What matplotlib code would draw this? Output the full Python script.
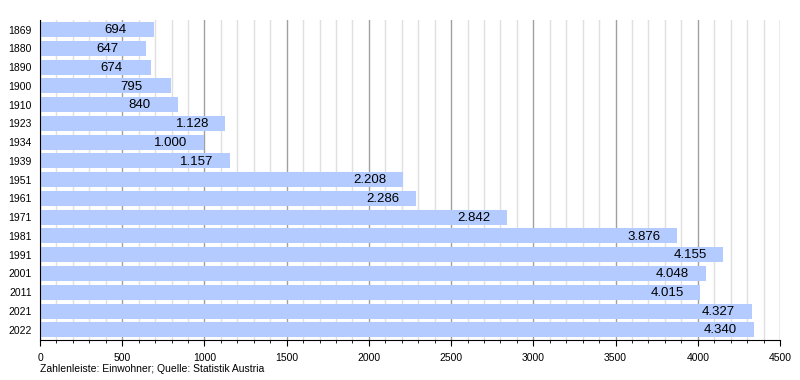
import matplotlib.pyplot as plt
from matplotlib.ticker import MultipleLocator

plt.rcParams['font.family'] = ['Liberation Sans', 'DejaVu Sans']

# population by census year
years = ['1869', '1880', '1890', '1900', '1910', '1923', '1934', '1939', '1951',
         '1961', '1971', '1981', '1991', '2001', '2011', '2021', '2022']
population = [694, 647, 674, 795, 840, 1128, 1000, 1157, 2208,
              2286, 2842, 3876, 4155, 4048, 4015, 4327, 4340]
labels = ['694', '647', '674', '795', '840', '1.128', '1.000', '1.157', '2.208',
          '2.286', '2.842', '3.876', '4.155', '4.048', '4.015', '4.327', '4.340']

fig = plt.figure(figsize=(8, 3.8), dpi=100)
ax = fig.add_axes([0.05, 0.105, 0.925, 0.842])

pos = list(range(len(years)))
ax.barh(pos, population, height=0.8, color='#b3cbff', zorder=2)

for p, v, t in zip(pos, population, labels):
    ax.annotate(t, (v, p), xytext=(-36, -0.5), textcoords='offset points',
                ha='left', va='center', fontsize=9.5, zorder=3)

ax.set_xlim(0, 4500)
ax.set_ylim(16.55, -0.5)
ax.set_yticks(pos)
ax.set_yticklabels(years, fontsize=7.5)
ax.tick_params(axis='y', length=0, pad=6)

ax.xaxis.set_major_locator(MultipleLocator(500))
ax.xaxis.set_minor_locator(MultipleLocator(100))
ax.tick_params(axis='x', which='major', length=4, labelsize=7.5, pad=5, direction='out')
ax.tick_params(axis='x', which='minor', length=2)

ax.grid(axis='x', which='major', color='#a0a0a0', linewidth=1, zorder=0)
ax.grid(axis='x', which='minor', color='#e0e0e0', linewidth=1, zorder=0)
ax.set_axisbelow(True)

for s in ['top', 'right']:
    ax.spines[s].set_visible(False)
ax.spines['left'].set_color('black')
ax.spines['bottom'].set_color('black')

fig.text(0.05, 0.02, 'Zahlenleiste: Einwohner; Quelle: Statistik Austria', fontsize=7.5)

fig.savefig('out.png', dpi=100)
